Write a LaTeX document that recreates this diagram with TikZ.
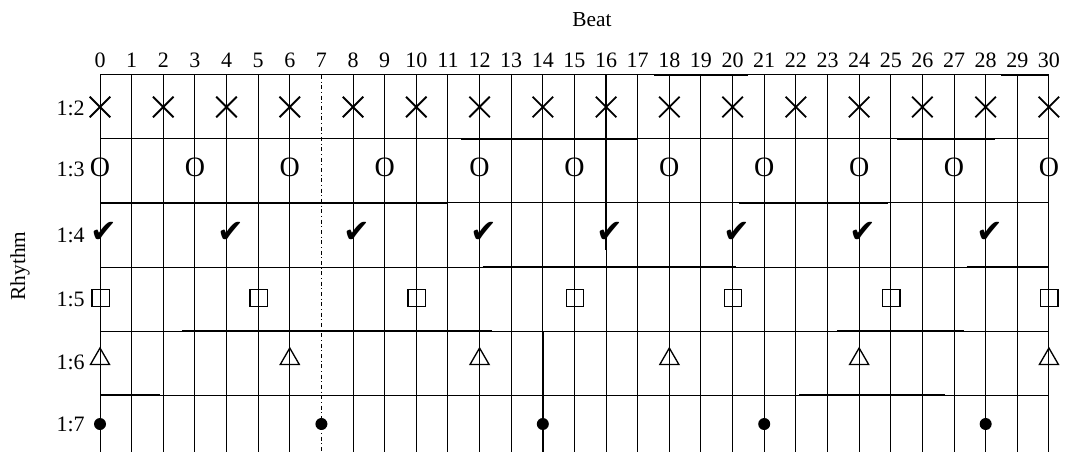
\documentclass[tikz,border=0pt]{standalone}
\usepackage{fontspec}
\setmainfont{Liberation Serif}
\newfontfamily\symfont{DejaVu Sans}
\usetikzlibrary{positioning,shapes.misc,shapes.geometric}
\tikzset{
  gridln/.style={line width=0.75pt, black},
  heavyln/.style={line width=2pt, black},
  beatlab/.style={font=\fontsize{16.5}{16.5}\selectfont, anchor=base, inner sep=0pt},
  rowlab/.style={font=\fontsize{16.5}{16.5}\selectfont, anchor=east, inner sep=0pt},
  axislab/.style={font=\fontsize{16}{16}\selectfont, inner sep=0pt},
  crossmk/.style={draw, cross out, line width=1.4pt, minimum size=14pt, inner sep=0pt},
  ringmk/.style={font=\fontsize{21}{21}\selectfont, inner sep=0pt},
  tickmk/.style={font=\symfont\fontsize{24}{24}\selectfont, inner sep=0pt},
  boxmk/.style={draw, line width=1pt, minimum size=13pt, inner sep=0pt},
  trimk/.style={draw, regular polygon, regular polygon sides=3, line width=1pt,
                minimum size=16.5pt, inner sep=0pt},
  dotmk/.style={circle, fill, minimum size=9pt, inner sep=0pt},
}
\begin{document}
\begin{tikzpicture}[x=0.75pt,y=-0.75pt]
\useasboundingbox (0,0) rectangle (1069,452);
\def\bw{31.63}
% grid
\foreach \k in {0,...,5}
  \draw[gridln] (100,{75+64*\k}) -- (1049,{75+64*\k});
\foreach \b in {0,...,30}{
  \ifnum\b=7
    \draw[gridln, dash dot] ({100+\bw*\b},75) -- ({100+\bw*\b},452);
  \else
    \draw[gridln] ({100+\bw*\b},75) -- ({100+\bw*\b},452);
  \fi
  \node[beatlab] (beat\b) at ({100+\bw*\b},68) {\b};
}
% heavier pieces of the rules
\foreach \ya/\ba/\bb in {75/17.5/20.5, 75/28.5/30, 139/11.4/17, 139/25.2/28.3,
    203/0/11, 203/20.2/24.9, 267/12.1/20.1, 267/27.4/30,
    331/2.6/12.4, 331/23.3/27.3, 395/0/1.9, 395/22.1/26.7}
  \draw[heavyln] ({100+\bw*\ba},\ya) -- ({100+\bw*\bb},\ya);
\foreach \b/\ya/\yb in {16/75/250, 23/267/452, 14/331/452}
  \draw[heavyln, line width=1.4pt] ({100+\bw*\b},\ya) -- ({100+\bw*\b},\yb);
% axis labels
\node[axislab] (beat) at (592,20) {Beat};
\node[axislab, rotate=90] (rhythm) at (20,266) {Rhythm};
\foreach \r/\yc in {2/108,3/169,4/235,5/299,6/362,7/424}
  \node[rowlab] (row\r) at (85,\yc) {1:\r};
% beat marks
\foreach \b in {0,2,...,30}
  \node[crossmk] (x\b) at ({100+\bw*\b},107) {};
\foreach \b in {0,3,...,30}
  \node[ringmk] (o\b) at ({100+\bw*\b},167) {O};
\foreach \b in {0,4,...,28}
  \node[tickmk] (v\b) at ({104+\bw*\b},232) {✔};
\foreach \b in {0,5,...,30}
  \node[boxmk] (q\b) at ({100.5+\bw*\b},298) {};
\foreach \b in {0,6,...,30}
  \node[trimk] (t\b) at ({100+\bw*\b},359) {};
\foreach \b in {0,7,...,28}
  \node[dotmk] (d\b) at ({100+\bw*\b},424) {};
\end{tikzpicture}
\end{document}
